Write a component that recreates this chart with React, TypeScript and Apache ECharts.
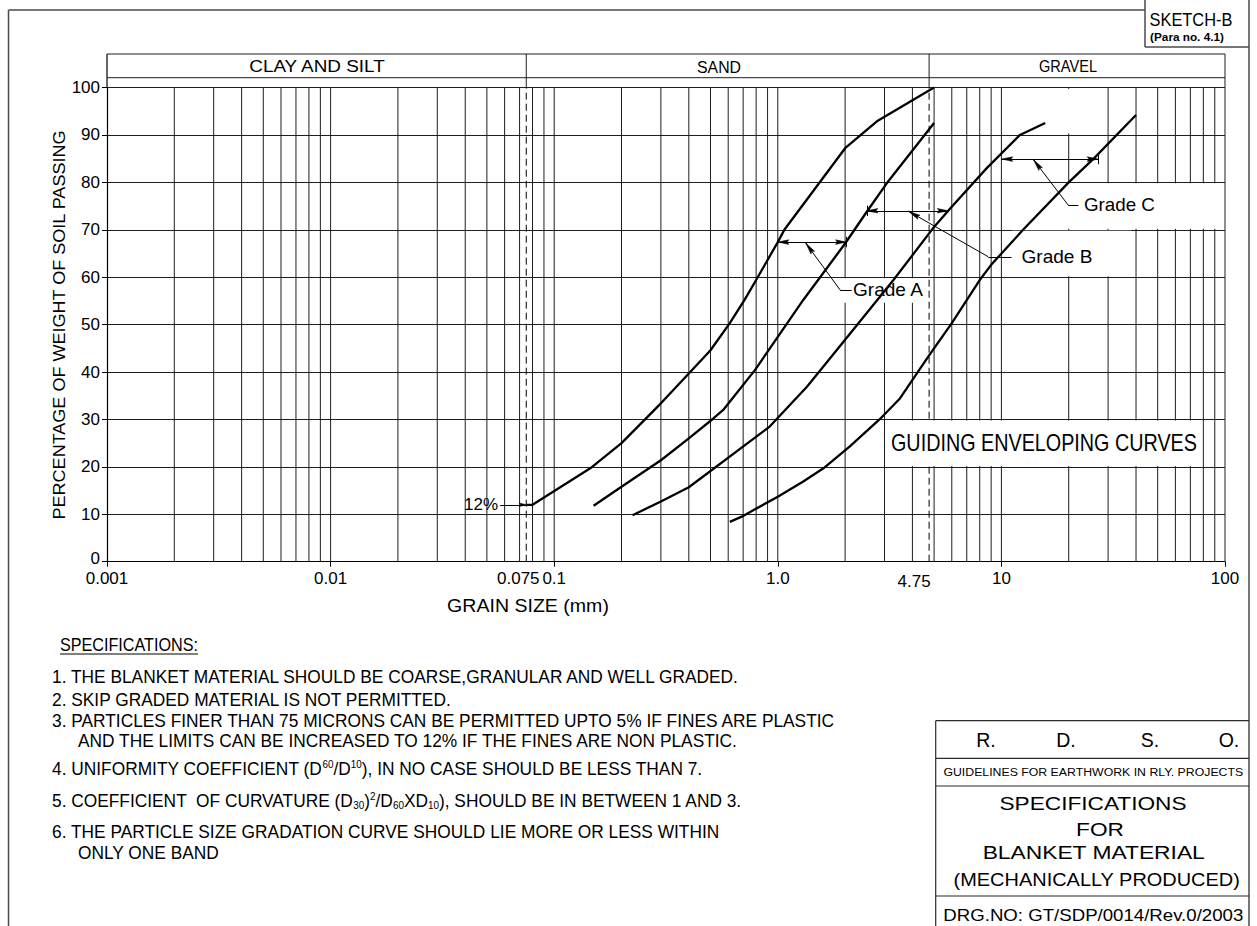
import React, { useEffect, useRef } from 'react';
import * as echarts from 'echarts';

// ---------------- axis values ----------------
const xMin = 0.001;
const xMax = 100;
const yMin = 0;
const yMax = 100;
const yStep = 10;
const xDecadeTicks = [0.001, 0.01, 0.1, 1, 10, 100];
const xDecadeLabels = ['0.001', '0.01', '0.1', '1.0', '10', '100'];
const xSpecialTicks = [0.075, 4.75];
const xSpecialLabels = ['0.075', '4.75'];
const verticalGrid = [
  0.002, 0.003, 0.004, 0.005, 0.006, 0.007, 0.008, 0.009, 0.01,
  0.02, 0.03, 0.04, 0.05, 0.06, 0.07, 0.08, 0.09, 0.1,
  0.2, 0.3, 0.4, 0.5, 0.6, 0.7, 0.8, 0.9, 1,
  2, 3, 4, 5, 6, 7, 8, 9, 10,
  20, 30, 40, 50, 60, 70, 80, 90,
];
const zoneBounds = [0.075, 4.75];
const zoneNames = ['CLAY AND SILT', 'SAND', 'GRAVEL'];

// ---------------- envelope curves: [grain size mm, % passing] ----------------
const curveGradeAFine: [number, number][] = [
  [0.075, 12], [0.08, 12], [0.145, 19.7], [0.2, 25], [0.3, 33.4], [0.4, 39.7], [0.5, 44.6],
  [0.61, 50.3], [0.71, 55.2], [0.8, 59.4], [1.0, 67.4], [1.07, 70], [2.0, 87.2], [2.8, 93], [5.0, 100],
];
const curveGradeABoundary: [number, number][] = [
  [0.15, 11.8], [0.2, 15.8], [0.3, 21.4], [0.4, 26], [0.515, 30.2], [0.57, 32], [0.79, 40.4],
  [1.0, 47.4], [1.3, 55.2], [2.0, 67.1], [2.5, 73.8], [3.07, 79.8], [5.0, 92.5],
];
const curveGradeBBoundary: [number, number][] = [
  [0.224, 9.8], [0.3, 12.7], [0.4, 15.7], [0.92, 28.5], [1.35, 36.9], [2.0, 46.8], [3.29, 59.4],
  [5.0, 70.6], [5.9, 74.5], [8.6, 83], [12.1, 90], [15.7, 92.5],
];
const curveGradeCCoarse: [number, number][] = [
  [0.61, 8.4], [0.69, 9.5], [0.78, 10.9], [1.0, 13.7], [1.3, 16.9], [1.6, 19.7], [2.1, 24.3],
  [2.85, 30], [3.5, 34.3], [4.7, 43.2], [6.0, 50.3], [8.0, 59.4], [9.0, 62.6], [12.5, 70],
  [20, 80], [26, 85.1], [40, 94.2],
];
const curves = [curveGradeAFine, curveGradeABoundary, curveGradeBBoundary, curveGradeCCoarse];
const curveNames = ['Grade A fine limit', 'Grade A / B', 'Grade B / C', 'Grade C coarse limit'];

// ---------------- annotations ----------------
const gradeDims: [number, number][][] = [
  [[1.0, 67.4], [2.03, 67.4]],
  [[2.5, 74.0], [5.79, 74.0]],
  [[10.03, 84.9], [27.1, 84.9]],
];
const gradeLeaders: [number, number][][] = [
  [[2.14, 57.3], [1.9, 57.3], [1.333, 67.2]],
  [[11.1, 64.3], [8.74, 64.3], [3.84, 73.9]],
  [[22.1, 75.2], [19.9, 75.2], [13.9, 84.8]],
];
const dimTicks: [number, number][] = [[2.03, 67.4], [2.5, 74.0], [27.1, 84.9]];
const gradeLabels = ['Grade A', 'Grade B', 'Grade C'];
const gradeLabelAt: [number, number][] = [[2.17, 57.3], [12.3, 64.3], [23.4, 75.2]];
const finesLeader: [number, number][] = [[0.0573, 12], [0.075, 12]];
const finesLabel = '12%';
const finesLabelAt: [number, number] = [0.0561, 12];
const bandTitle = 'GUIDING ENVELOPING CURVES';
const bandTitleAt: [number, number] = [15.5, 25];
// white masks behind labels: [x1, y1, x2, y2]
const masks = [
  [1.9, 54.6, 4.6, 59.8],
  [11.2, 60.2, 38, 69.8],
  [19.6, 70.2, 99, 79.8],
  [3.03, 20.2, 79, 29.8],
  [19.7, 90.3, 20.3, 99.7],
];

// ---------------- texts ----------------
const yTitle = 'PERCENTAGE OF WEIGHT OF SOIL PASSING';
const xTitle = 'GRAIN SIZE (mm)';
const specHeading = 'SPECIFICATIONS:';
const specLines = [
  '1. THE BLANKET MATERIAL SHOULD BE COARSE,GRANULAR AND WELL GRADED.',
  '2. SKIP GRADED MATERIAL IS NOT PERMITTED.',
  '3. PARTICLES FINER THAN 75 MICRONS CAN BE PERMITTED UPTO 5% IF FINES ARE PLASTIC',
  'AND THE LIMITS CAN BE INCREASED TO 12% IF THE FINES ARE NON PLASTIC.',
  '4. UNIFORMITY COEFFICIENT (D{sup|60}/D{sup|10}), IN NO CASE SHOULD BE LESS THAN 7.',
  '5. COEFFICIENT  OF CURVATURE (D{sub|30}){sup|2}/D{sub|60}XD{sub|10}), SHOULD BE IN BETWEEN 1 AND 3.',
  '6. THE PARTICLE SIZE GRADATION CURVE SHOULD LIE MORE OR LESS WITHIN',
  'ONLY ONE BAND',
];
const rdsoLetters = ['R.', 'D.', 'S.', 'O.'];
const titleLines = [
  'GUIDELINES FOR EARTHWORK IN RLY. PROJECTS',
  'SPECIFICATIONS',
  'FOR',
  'BLANKET MATERIAL',
  '(MECHANICALLY PRODUCED)',
  'DRG.NO: GT/SDP/0014/Rev.0/2003',
];
const sketchTitle = 'SKETCH-B';
const sketchSub = '(Para no. 4.1)';

// ---------------- layout ----------------
const FONT = 'Liberation Sans';
const GRID = { left: 107, top: 87.5, width: 1118, height: 474.2 };
const GRIDLINE = '#1e1e1e';

let measureCtx: CanvasRenderingContext2D | null = null;
function measure(text: string, size: number, weight = 'normal'): number {
  if (!measureCtx) measureCtx = document.createElement('canvas').getContext('2d');
  if (!measureCtx) return text.length * size * 0.6;
  measureCtx.font = `${weight} ${size}px "${FONT}"`;
  return measureCtx.measureText(text).width;
}

function buildOption(): any {
  const gridData: any[] = [];
  verticalGrid.forEach((v) => { gridData.push([v, yMin], [v, yMax], [v, '-']); });
  const dashData: any[] = [];
  zoneBounds.forEach((v) => { dashData.push([v, yMin], [v, yMax], [v, '-']); });

  const seg = (a: number[], b: number[]) => [{ coord: a }, { coord: b }];
  const mlData: any[] = [];
  gradeDims.forEach((d) => mlData.push(seg(d[0], d[1])));
  gradeLeaders.forEach((l) => {
    for (let i = 0; i < l.length - 1; i++) mlData.push(seg(l[i], l[i + 1]));
  });
  mlData.push(seg(finesLeader[0], finesLeader[1]));
  dimTicks.forEach((t) => mlData.push(seg([t[0], t[1] - 1.1], [t[0], t[1] + 1.1])));

  const curveSeries = curves.map((c, i) => ({
    name: curveNames[i],
    type: 'line',
    data: c,
    symbol: 'none',
    z: 3,
    clip: false,
    silent: true,
    lineStyle: { color: '#000', width: 2.3 },
    ...(i === curves.length - 1
      ? {
          markLine: {
            silent: true,
            z: 5,
            symbol: ['none', 'none'],
            label: { show: false },
            lineStyle: { color: '#000', width: 1, type: 'solid' },
            emphasis: { disabled: true },
            data: mlData,
          },
        }
      : {}),
  }));

  return {
    animation: false,
    backgroundColor: '#fff',
    textStyle: { fontFamily: FONT },
    grid: { ...GRID, containLabel: false, outerBoundsMode: 'none' },
    xAxis: {
      type: 'log',
      logBase: 10,
      min: xMin,
      max: xMax,
      splitNumber: 5,
      axisLine: { show: true, onZero: false, lineStyle: { color: '#000', width: 1.2 } },
      axisTick: { show: true, length: 5, lineStyle: { color: '#000', width: 1 } },
      axisLabel: {
        fontSize: 17,
        color: '#000',
        margin: 8,
        fontFamily: FONT,
        formatter: (v: number) => {
          const k = Math.round(Math.log10(v));
          const i = xDecadeTicks.findIndex((t) => Math.round(Math.log10(t)) === k);
          return i >= 0 ? xDecadeLabels[i] : '';
        },
      },
      splitLine: { show: false },
      minorTick: { show: false },
    },
    yAxis: {
      type: 'value',
      min: yMin,
      max: yMax,
      interval: yStep,
      axisLine: { show: true, onZero: false, lineStyle: { color: '#000', width: 1.2 } },
      axisTick: { show: true, length: 5, lineStyle: { color: '#000', width: 1 } },
      axisLabel: {
        fontSize: 17,
        color: '#000',
        margin: 7,
        fontFamily: FONT,
        formatter: (v: number) => (v === yMin ? `{lo|${v}}` : `${v}`),
        rich: { lo: { fontSize: 17, fontFamily: FONT, color: '#000', padding: [0, 0, 7, 0] } },
      },
      splitLine: { show: true, lineStyle: { color: GRIDLINE, width: 1 } },
    },
    series: [
      {
        name: 'grid',
        type: 'line',
        data: gridData,
        symbol: 'none',
        z: 0,
        silent: true,
        connectNulls: false,
        lineStyle: { color: GRIDLINE, width: 1 },
        markArea: {
          silent: true,
          z: 1,
          itemStyle: { color: '#fff', opacity: 1 },
          label: { show: false },
          data: masks.map((m) => [{ coord: [m[0], m[1]] }, { coord: [m[2], m[3]] }]),
        },
      },
      {
        name: 'zone boundaries',
        type: 'line',
        data: dashData,
        symbol: 'none',
        z: 0,
        silent: true,
        connectNulls: false,
        lineStyle: { color: '#000', width: 1, type: [7, 4] },
      },
      ...curveSeries,
    ],
  };
}

function buildGraphics(chart: any): any[] {
  const px = (v: number, p: number): number[] => chart.convertToPixel({ seriesIndex: 2 }, [v, p]);
  const [gx0, gyTop] = px(xMin, yMax);
  const [gx1, gyBot] = px(xMax, yMin);
  const els: any[] = [];
  const L = (x1: number, y1: number, x2: number, y2: number, stroke = '#1e1e1e', w = 1) =>
    els.push({ type: 'line', silent: true, z: 50, shape: { x1, y1, x2, y2 }, style: { stroke, lineWidth: w } });
  const T = (text: string, x: number, y: number, size: number, o: any = {}) => {
    const weight = o.weight || 'normal';
    const sx = o.w ? o.w / measure(text, size, weight) : o.sx || 1;
    const style: any = {
      text,
      font: `${weight} ${size}px "${FONT}"`,
      fill: '#000',
      textAlign: o.align || 'left',
      textVerticalAlign: o.valign || 'middle',
    };
    if (o.rich) style.rich = o.rich;
    els.push({ type: 'text', silent: true, z: 100, x, y, rotation: o.rot || 0, scaleX: sx, style });
    return sx;
  };
  // arrowhead: tip at data point `tip`, pointing away from data point `from`
  const arrow = (tip: number[], from: number[], len = 11, hw = 2.3) => {
    const [tx, ty] = px(tip[0], tip[1]);
    const [fx, fy] = px(from[0], from[1]);
    const d = Math.hypot(fx - tx, fy - ty) || 1;
    const ux = (fx - tx) / d;
    const uy = (fy - ty) / d;
    const nx = -uy;
    const ny = ux;
    els.push({
      type: 'polygon',
      silent: true,
      z: 60,
      shape: {
        points: [
          [tx, ty],
          [tx + ux * len + nx * hw, ty + uy * len + ny * hw],
          [tx + ux * len * 0.85, ty + uy * len * 0.85],
          [tx + ux * len - nx * hw, ty + uy * len - ny * hw],
        ],
      },
      style: { fill: '#000', stroke: '#000', lineWidth: 0.5 },
    });
  };

  // drawing frame
  const frame = '#4a4a4a';
  L(8.5, 10, 8.5, 926, frame, 1.5);
  L(8.5, 10, 1145, 10, frame, 1.5);
  L(1145, 0, 1145, 47, frame, 1.5);
  L(1145, 47, 1249, 47, frame, 1.5);
  L(1249, 0, 1249, 926, frame, 1.5);
  T(sketchTitle, 1191, 20, 18, { align: 'center', w: 83 });
  T(sketchSub, 1187, 37, 11, { align: 'center', w: 74, weight: 'bold' });

  // header band above plot
  const hTop = 54;
  const hBot = 77.7;
  L(gx0, hTop, gx1, hTop);
  L(gx0, hBot, gx1, hBot);
  L(gx0, hTop, gx0, gyTop, '#000', 1.2);
  L(gx1, hTop, gx1, gyBot);
  zoneBounds.forEach((v) => {
    const x = px(v, yMax)[0];
    L(x, hTop, x, gyTop);
  });
  const zoneX = [317, 719, 1068];
  const zoneW = [137, 44, 58];
  zoneNames.forEach((n, i) => T(n, zoneX[i], 66.5, 17, { align: 'center', w: zoneW[i] }));

  // axis titles and extra tick labels
  T(yTitle, 59, 325, 17, { align: 'center', rot: Math.PI / 2, w: 390 });
  T(xTitle, 528, 606, 17.5, { align: 'center', w: 162 });
  const extraOff = [[-8, 0], [-15, 3]];
  xSpecialTicks.forEach((v, i) => {
    const x = px(v, yMin)[0];
    T(xSpecialLabels[i], x + extraOff[i][0], gyBot + 8 + extraOff[i][1], 17, { align: 'center', valign: 'top' });
  });

  // annotation arrowheads
  gradeDims.forEach((d) => {
    arrow(d[0], d[1]);
    arrow(d[1], d[0]);
  });
  gradeLeaders.forEach((l) => arrow(l[l.length - 1], l[l.length - 2], 12, 2.3));
  arrow(finesLeader[1], finesLeader[0], 7, 1.8);

  // in-plot labels
  gradeLabels.forEach((g, i) => {
    const [x, y] = px(gradeLabelAt[i][0], gradeLabelAt[i][1]);
    T(g, x, y, 17.5, { w: 71 });
  });
  {
    const [x, y] = px(finesLabelAt[0], finesLabelAt[1]);
    T(finesLabel, x, y, 17, { align: 'right' });
  }
  {
    const [x, y] = px(bandTitleAt[0], bandTitleAt[1]);
    T(bandTitle, x, y, 23.5, { align: 'center', w: 306 });
  }

  // specifications
  T(specHeading, 60, 645, 17.5, { w: 138 });
  L(60, 654, 198, 654, '#000', 1);
  const specSx = 689 / measure(specLines[0], 17.5);
  const rich = {
    sup: { fontSize: 10, fontFamily: FONT, padding: [0, 0, 9, 0] },
    sub: { fontSize: 10, fontFamily: FONT, padding: [9, 0, 0, 0] },
  };
  const specX = [52, 52, 52, 78, 52, 52, 52, 78];
  const specY = [677, 699.5, 720.5, 741, 769, 801, 832, 853];
  specLines.forEach((s, i) => {
    T(s, specX[i], specY[i], 17.5, { sx: specSx, rich: s.indexOf('{') >= 0 ? rich : undefined });
  });

  // title block
  const tb = '#2a2a2a';
  L(935.7, 720.7, 1249, 720.7, tb, 1.2);
  L(935.7, 720.7, 935.7, 926, tb, 1.2);
  L(935.7, 758.3, 1249, 758.3, tb, 1.2);
  L(935.7, 786, 1249, 786, tb, 1.2);
  L(935.7, 896, 1249, 896, tb, 1.2);
  const rdsoX = [986, 1066, 1150, 1229];
  rdsoLetters.forEach((r, i) => T(r, rdsoX[i], 740, 19.5, { align: 'center' }));
  T(titleLines[0], 1093.3, 771.7, 11, { align: 'center', w: 300 });
  const specTitleSx = T(titleLines[1], 1093, 803, 18.6, { align: 'center', w: 187 });
  T(titleLines[2], 1100, 829, 18.6, { align: 'center', sx: specTitleSx });
  T(titleLines[3], 1093.7, 852.3, 18.6, { align: 'center', w: 222.7 });
  T(titleLines[4], 1096.7, 880, 18.6, { align: 'center', w: 286.7 });
  T(titleLines[5], 1093.3, 915.7, 16, { align: 'center', w: 300 });

  return els;
}

export default function App() {
  const ref = useRef<HTMLDivElement>(null);
  useEffect(() => {
    const el = ref.current;
    if (!el) return;
    const chart = echarts.init(el, null, { renderer: 'svg' });
    chart.setOption(buildOption());
    chart.setOption({ graphic: { elements: buildGraphics(chart) } });
    return () => chart.dispose();
  }, []);
  return (
    <div
      ref={ref}
      style={{ position: 'fixed', left: 0, top: 0, width: 1257, height: 926, background: '#fff' }}
    />
  );
}
